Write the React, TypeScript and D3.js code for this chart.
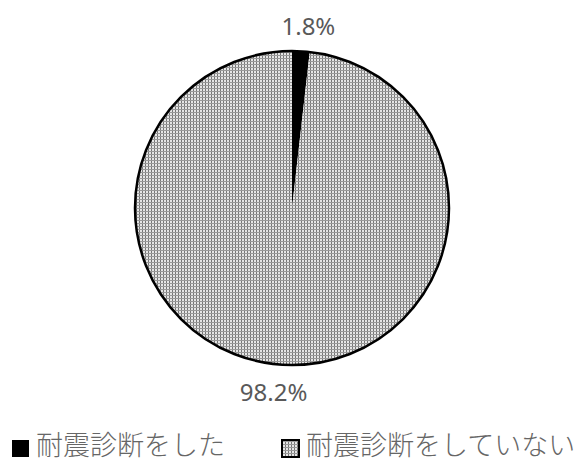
import * as d3 from 'd3';
import React, { useRef, useEffect } from 'react';

const categories = ["耐震診断をした", "耐震診断をしていない"];
const values = [1.8, 98.2];
const valueLabels = ["1.8%", "98.2%"];

function Chart({ width, height }: { width: number; height: number }) {
    const ref = useRef<SVGSVGElement>(null);

    useEffect(() => {
        const svg = d3.select(ref.current);
        svg.selectAll("*").remove();

        const cx = 292;
        const cy = 208;
        const radius = 157;
        const font = "'Noto Sans', 'Open Sans', sans-serif";

        // dotted hatch for the big slice
        const defs = svg.append("defs");
        const pat = defs.append("pattern")
            .attr("id", "dots")
            .attr("width", 3)
            .attr("height", 3)
            .attr("patternUnits", "userSpaceOnUse");
        pat.append("rect").attr("width", 3).attr("height", 3).attr("fill", "#e6e6e6");
        pat.append("rect").attr("width", 1).attr("height", 3).attr("fill", "#777");
        pat.append("rect").attr("width", 3).attr("height", 1).attr("fill", "#999");

        const fills = ["#000000", "url(#dots)"];

        const pie = d3.pie<number>().sort(null).value(d => d);
        const arcs = pie(values);
        const arc = d3.arc<d3.PieArcDatum<number>>().innerRadius(0).outerRadius(radius);

        const g = svg.append("g").attr("transform", `translate(${cx},${cy})`);
        g.selectAll("path")
            .data(arcs)
            .enter()
            .append("path")
            .attr("d", arc)
            .attr("fill", (d, i) => fills[i])
            .attr("stroke", "none");

        g.append("circle")
            .attr("r", radius)
            .attr("fill", "none")
            .attr("stroke", "#000")
            .attr("stroke-width", 2.5);

        // data labels outside
        const labelArc = d3.arc<d3.PieArcDatum<number>>().innerRadius(radius + 27).outerRadius(radius + 27);
        const nudge = [[6, 1], [-8, 0]];
        g.selectAll("text.lbl")
            .data(arcs)
            .enter()
            .append("text")
            .attr("class", "lbl")
            .attr("x", (d) => labelArc.centroid(d)[0] + nudge[d.index][0])
            .attr("y", (d) => labelArc.centroid(d)[1] + nudge[d.index][1])
            .attr("text-anchor", "middle")
            .attr("dominant-baseline", "central")
            .attr("fill", "#595959")
            .attr("font-family", font)
            .attr("font-size", "24px")
            .text((d, i) => valueLabels[i]);

        // legend
        const legendX = [12, 282];
        const lg = svg.append("g");
        categories.forEach((c, i) => {
            lg.append("rect")
                .attr("x", legendX[i])
                .attr("y", 440)
                .attr("width", 17)
                .attr("height", 17)
                .attr("fill", fills[i])
                .attr("stroke", "#000")
                .attr("stroke-width", i === 0 ? 0 : 2);
            lg.append("text")
                .attr("x", legendX[i] + 24)
                .attr("y", 455)
                .attr("fill", "#666")
                .attr("font-family", "'Noto Sans CJK JP', sans-serif")
                .attr("font-weight", 300)
                .attr("font-size", "27px")
                .text(c);
        });
    }, []);

    return <svg ref={ref} width={width} height={height} style={{ display: "block", background: "#fff" }} />;
}

export default function App() {
    return (
        <div style={{ position: "absolute", left: 0, top: 0 }}>
            <Chart width={582} height={462} />
        </div>
    );
}
